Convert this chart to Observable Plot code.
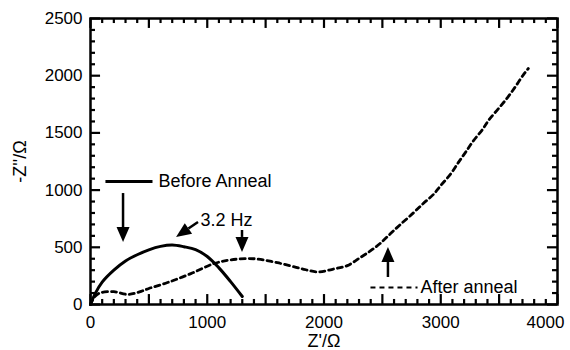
<!DOCTYPE html>
<html><head><meta charset="utf-8">
<script src="https://cdn.jsdelivr.net/npm/d3@7"></script>
<script src="https://cdn.jsdelivr.net/npm/@observablehq/plot@0.6"></script>
<style>body{margin:0;background:#fff}</style>
</head><body><div id="chart"></div>
<script>
// Before anneal (Z', -Z'')
const beforeX = [0, 40, 100, 200, 300, 400, 500, 600, 700, 800, 900, 1000, 1100, 1200, 1300];
const beforeY = [0, 95, 195, 300, 380, 435, 478, 508, 520, 505, 480, 420, 320, 200, 70];
// After anneal
const afterX = [0, 30, 80, 200, 320, 420, 500, 660, 860, 1050, 1200, 1400, 1600, 1800, 1950, 2080, 2200, 2310, 2400, 2480, 2570, 2655, 2770, 2850, 2940, 3000, 3084, 3150, 3212, 3281, 3358, 3410, 3495, 3572, 3640, 3709, 3750];
const afterY = [0, 60, 100, 112, 88, 110, 140, 192, 270, 355, 390, 400, 365, 315, 285, 310, 340, 410, 470, 533, 620, 700, 805, 883, 965, 1040, 1140, 1240, 1330, 1433, 1530, 1610, 1713, 1809, 1905, 2010, 2063];
// tick values
const xLabelTicks = [0, 1000, 2000, 3000];
const xLastTick = [4000];
const yLabelTicks = [0, 500, 1000, 1500, 2000, 2500];
const xMajor = d3.range(0, 4001, 500);
const yMajor = d3.range(0, 2501, 500);
const xMinor = d3.range(0, 4001, 100).filter(v => v % 500 !== 0);
const yMinor = d3.range(0, 2501, 100).filter(v => v % 500 !== 0);
// annotations
const arrowTailX = [283, 925, 1302, 2552];
const arrowTailY = [970, 717, 647, 236];
const arrowTipX = [283, 737, 1302, 2552];
const arrowTipY = [542, 586, 455, 498];
const labelText = ["Before Anneal", "3.2 Hz", "After anneal"];
const labelX = [582, 942, 2827];
const labelY = [1075, 734, 149];
const legendX1 = [128, 2398];
const legendX2 = [531, 2801];
const legendY = [1075, 149];
const legendDash = [null, "5,4"];

const before = beforeX.map((x, i) => ({x, y: beforeY[i]}));
const after = afterX.map((x, i) => ({x, y: afterY[i]}));
const arrows = arrowTailX.map((x, i) => ({x1: x, y1: arrowTailY[i], x2: arrowTipX[i], y2: arrowTipY[i]}));
const labels = labelText.map((t, i) => ({t, x: labelX[i], y: labelY[i]}));
const legends = legendX1.map((x1, i) => ({x1, x2: legendX2[i], y: legendY[i], dash: legendDash[i]}));

const arrowMark = (index, scales) => {
  const g = d3.create("svg:g");
  for (const a of arrows) {
    const x1 = scales.x(a.x1), y1 = scales.y(a.y1), x2 = scales.x(a.x2), y2 = scales.y(a.y2);
    const dx = x2 - x1, dy = y2 - y1, L = Math.hypot(dx, dy);
    const ux = dx / L, uy = dy / L, hl = 15, hw = 6.5;
    const bx = x2 - ux * hl, by = y2 - uy * hl;
    g.append("line").attr("x1", x1).attr("y1", y1).attr("x2", bx).attr("y2", by)
      .attr("stroke", "black").attr("stroke-width", 2.5);
    g.append("polygon").attr("points", [
      [x2, y2], [bx - uy * hw, by + ux * hw], [bx + uy * hw, by - ux * hw]
    ].map(p => p.join(",")).join(" ")).attr("fill", "black");
  }
  return g.node();
};

const font = "'Liberation Sans', Arial, Helvetica, sans-serif";
const fmt = d3.format("d");
const chart = Plot.plot({
  width: 570, height: 350,
  marginLeft: 90, marginRight: 13, marginTop: 18, marginBottom: 46,
  style: {fontFamily: font, fontSize: "17px", color: "black", background: "white"},
  x: {domain: [0, 4000]},
  y: {domain: [0, 2500]},
  marks: [
    // inward ticks
    Plot.ruleX(xMajor, {x: d => d, y1: 0, y2: 87, strokeWidth: 2.2}),
    Plot.ruleX(xMinor, {x: d => d, y1: 0, y2: 44, strokeWidth: 2.2}),
    Plot.ruleX(xMajor, {x: d => d, y1: 2500, y2: 2413, strokeWidth: 2.2}),
    Plot.ruleX(xMinor, {x: d => d, y1: 2500, y2: 2456, strokeWidth: 2.2}),
    Plot.ruleY(yMajor, {y: d => d, x1: 0, x2: 86, strokeWidth: 2.2}),
    Plot.ruleY(yMinor, {y: d => d, x1: 0, x2: 43, strokeWidth: 2.2}),
    Plot.ruleY(yMajor, {y: d => d, x1: 4000, x2: 3914, strokeWidth: 2.2}),
    Plot.ruleY(yMinor, {y: d => d, x1: 4000, x2: 3957, strokeWidth: 2.2}),
    Plot.axisX({ticks: xLabelTicks, tickSize: 0, tickPadding: 11, tickFormat: fmt, label: null, fontSize: 17}),
    Plot.axisX({ticks: xLastTick, tickSize: 0, tickPadding: 11, tickFormat: fmt, label: null, fontSize: 17, dx: -12}),
    Plot.axisY({ticks: yLabelTicks, tickSize: 0, tickPadding: 8, tickFormat: fmt, label: null, fontSize: 17}),
    Plot.text(["Z'/Ω"], {frameAnchor: "bottom", lineAnchor: "middle", dy: 37, text: d => d, fontSize: 18}),
    Plot.text(["-Z''/Ω"], {frameAnchor: "left", textAnchor: "middle", dx: -70, rotate: -90, text: d => d, fontSize: 18}),
    Plot.line(before, {x: "x", y: "y", stroke: "black", strokeWidth: 3, curve: "catmull-rom"}),
    Plot.line(after, {x: "x", y: "y", stroke: "black", strokeWidth: 2.8, strokeDasharray: "5,4", curve: "catmull-rom"}),
    Plot.link(legends.filter(d => !d.dash), {x1: "x1", x2: "x2", y1: "y", y2: "y", stroke: "black", strokeWidth: 3}),
    Plot.link(legends.filter(d => d.dash), {x1: "x1", x2: "x2", y1: "y", y2: "y", stroke: "black", strokeWidth: 2, strokeDasharray: "5,4"}),
    Plot.text(labels, {x: "x", y: "y", text: "t", textAnchor: "start", fontSize: 18}),
    arrowMark,
    Plot.frame({stroke: "black", strokeWidth: 2.5})
  ]
});
document.getElementById("chart").appendChild(chart);
</script>
</body></html>
